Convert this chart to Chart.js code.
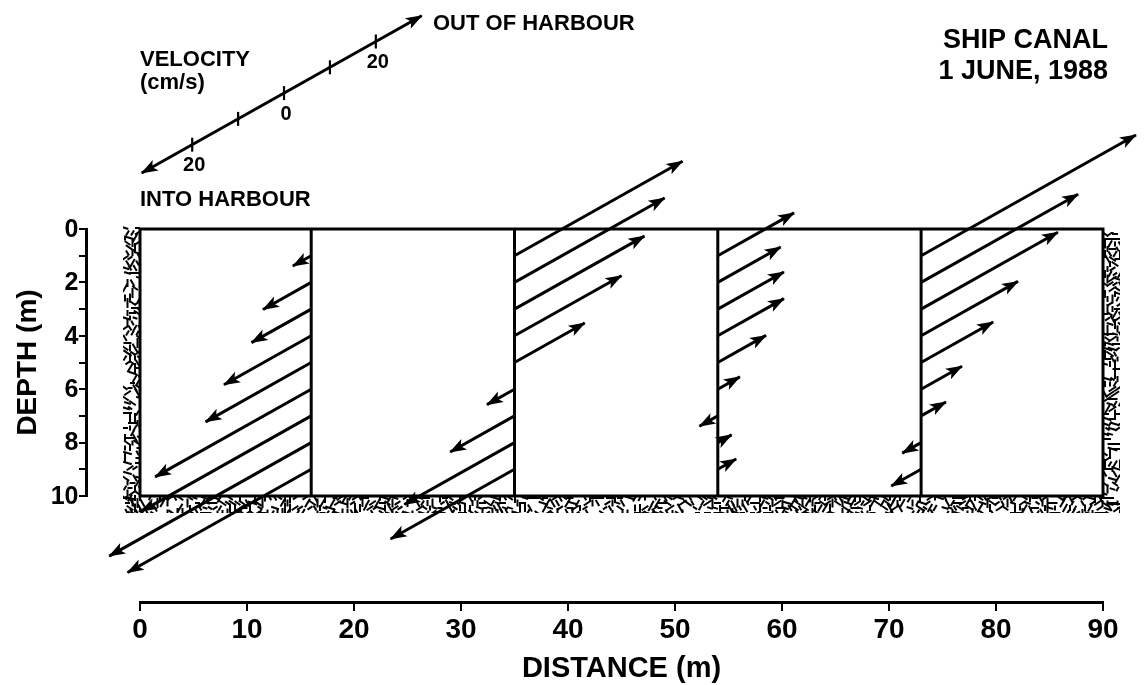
<!DOCTYPE html>
<html>
<head>
<meta charset="utf-8">
<script src="https://cdn.jsdelivr.net/npm/chart.js@4.4.1/dist/chart.umd.min.js"></script>
<style>
  html, body { margin: 0; padding: 0; background: #fff; }
  canvas { display: block; }
</style>
</head>
<body>
<canvas id="chartArea" width="1145" height="685"></canvas>
<script>
// stations across the canal (distance, m) and measuring depths (m)
var stations = [16, 35, 54, 73];
var depths = [1, 2, 3, 4, 5, 6, 7, 8, 9];
// velocity in cm/s, positive = out of harbour, negative = into harbour
var velStation16 = [-4, -10.5, -13, -19, -23, -34, -37, -44, -40];
var velStation35 = [36.6, 32.7, 28.3, 23.3, 15.3, -6, -14, -24, -27];
var velStation54 = [16.6, 13.7, 14.4, 14.4, 10.5, 4.8, -4, 3, 4];
var velStation73 = [46.8, 34.2, 29.8, 21.1, 15.7, 8.9, 5.4, -4.1, -6.5];
var velocities = [velStation16, velStation35, velStation54, velStation73];

var distanceTicks = [0, 10, 20, 30, 40, 50, 60, 70, 80, 90];
var depthTicks = [0, 2, 4, 6, 8, 10];

// velocity key
var keyTicks = [-20, -10, 0, 10, 20];
var keyLabels = ['20', '', '0', '', '20'];
var keyEnds = [-31, 30];

// drawing of the oblique velocity vectors: distance (m) and depth (m) per cm/s
var K_DIST = 0.429;
var K_DEPTH = 0.0966;
var KEY_ORIGIN = { x: 13.46, y: -5.09 };

var LW = 3;
var FONT = '"Liberation Sans", Arial, sans-serif';

function vec(x, y, v) {
    return { x: x + v * K_DIST, y: y - v * K_DEPTH };
}

var datasets = [];
// canal cross-section box
datasets.push({
    data: [{x: 0, y: 0}, {x: 90, y: 0}, {x: 90, y: 10}, {x: 0, y: 10}, {x: 0, y: 0}],
    borderWidth: LW
});
// station verticals and their vectors
stations.forEach(function(s, si) {
    datasets.push({ data: [{x: s, y: 0}, {x: s, y: 10}], borderWidth: LW });
    depths.forEach(function(d, di) {
        datasets.push({
            data: [{x: s, y: d}, vec(s, d, velocities[si][di])],
            borderWidth: LW,
            arrow: 'end'
        });
    });
});
// velocity key line
datasets.push({
    data: [vec(KEY_ORIGIN.x, KEY_ORIGIN.y, keyEnds[0]), vec(KEY_ORIGIN.x, KEY_ORIGIN.y, keyEnds[1])],
    borderWidth: LW,
    arrow: 'both'
});
datasets.forEach(function(ds) {
    ds.showLine = true;
    ds.borderColor = '#000';
    ds.pointRadius = 0;
    ds.clip = false;
    ds.tension = 0;
    ds.borderCapStyle = 'butt';
});

function hash(n) {
    n = (n ^ 61) ^ (n >>> 16);
    n = n + (n << 3);
    n = n ^ (n >>> 4);
    n = Math.imul(n, 0x27d4eb2d);
    n = n ^ (n >>> 15);
    return n >>> 0;
}

// bank / bed texture: short strokes in a fixed pattern
var ANGLES = [0, 0.6, 1.05, 1.57, 2.1, 2.55, 0.3, 1.57];
function hatchBand(ctx, x0, y0, x1, y1, seed) {
    ctx.save();
    ctx.beginPath();
    ctx.rect(x0, y0, x1 - x0, y1 - y0);
    ctx.clip();
    ctx.strokeStyle = '#000';
    ctx.lineWidth = 2;
    var step = 5, i = 0;
    for (var y = y0 + 2; y < y1 + 2; y += step) {
        var j = 0;
        for (var x = x0 + 2 + (i % 2) * 2.5; x < x1 + 2; x += step) {
            var h = hash(seed * 7919 + i * 1031 + j * 17);
            j++;
            if ((h >>> 7) % 4 === 0) continue;
            var a = ANGLES[h % 8];
            var len = 5 + (h >>> 3) % 6;
            var dx = Math.cos(a) * len / 2, dy = Math.sin(a) * len / 2;
            ctx.beginPath();
            ctx.moveTo(x - dx, y - dy);
            ctx.lineTo(x + dx, y + dy);
            ctx.stroke();
        }
        i++;
    }
    ctx.restore();
}

function arrowHead(ctx, from, to) {
    var a = Math.atan2(to.y - from.y, to.x - from.x);
    var len = 16, half = 6;
    ctx.save();
    ctx.translate(to.x, to.y);
    ctx.rotate(a);
    ctx.beginPath();
    ctx.moveTo(1, 0);
    ctx.lineTo(-len, -half);
    ctx.lineTo(-len + 4, 0);
    ctx.lineTo(-len, half);
    ctx.closePath();
    ctx.fillStyle = '#000';
    ctx.fill();
    ctx.restore();
}

var canalPlugin = {
    id: 'canal',
    beforeDatasetsDraw: function(chart) {
        var ctx = chart.ctx, xs = chart.scales.x, ys = chart.scales.y;
        var xl = xs.getPixelForValue(0), xr = xs.getPixelForValue(90);
        var yt = ys.getPixelForValue(0), yb = ys.getPixelForValue(10);
        var w = 17;
        hatchBand(ctx, xl - w, yt - 3, xl, yb + w, 1);
        hatchBand(ctx, xl - w, yb, xr + w, yb + w, 2);
        hatchBand(ctx, xr, yt + 3, xr + w, yb + w, 3);
    },
    afterDatasetsDraw: function(chart) {
        var ctx = chart.ctx, xs = chart.scales.x, ys = chart.scales.y;
        chart.data.datasets.forEach(function(ds, i) {
            if (!ds.arrow) return;
            var pts = chart.getDatasetMeta(i).data;
            arrowHead(ctx, pts[0], pts[1]);
            if (ds.arrow === 'both') arrowHead(ctx, pts[1], pts[0]);
        });
        ctx.save();
        ctx.strokeStyle = '#000';
        ctx.lineWidth = 2.2;
        ctx.fillStyle = '#000';
        ctx.font = 'bold 20px ' + FONT;
        ctx.textAlign = 'center';
        ctx.textBaseline = 'middle';
        // key ticks and labels
        keyTicks.forEach(function(v, k) {
            var p = vec(KEY_ORIGIN.x, KEY_ORIGIN.y, v);
            var px = xs.getPixelForValue(p.x), py = ys.getPixelForValue(p.y);
            ctx.beginPath();
            ctx.moveTo(px, py - 7);
            ctx.lineTo(px, py + 7);
            ctx.stroke();
            if (keyLabels[k]) ctx.fillText(keyLabels[k], px + 2, py + 21);
        });
        // depth tick labels, placed left of the depth axis ticks
        var axisX = xs.getPixelForValue(ys.options.position.x);
        ctx.font = 'bold 25px ' + FONT;
        ctx.textAlign = 'right';
        ys.ticks.forEach(function(t) {
            if (depthTicks.indexOf(t.value) < 0) return;
            ctx.fillText(String(t.value), axisX - 8, ys.getPixelForValue(t.value) + 1);
        });
        ctx.restore();
    },
    afterDraw: function(chart) {
        var ctx = chart.ctx, ys = chart.scales.y;
        ctx.save();
        ctx.fillStyle = '#000';
        ctx.textBaseline = 'middle';
        ctx.font = 'bold 22px ' + FONT;
        ctx.textAlign = 'left';
        ctx.fillText('VELOCITY', 140, 60);
        ctx.fillText('(cm/s)', 140, 83);
        ctx.fillText('OUT OF HARBOUR', 433, 24);
        ctx.fillText('INTO HARBOUR', 140, 200);
        ctx.font = 'bold 27px ' + FONT;
        ctx.textAlign = 'right';
        ctx.fillText('SHIP CANAL', 1108, 41);
        ctx.fillText('1 JUNE, 1988', 1108, 72);
        // depth axis title
        var cy = (ys.getPixelForValue(0) + ys.getPixelForValue(10)) / 2;
        ctx.translate(28, cy);
        ctx.rotate(-Math.PI / 2);
        ctx.textAlign = 'center';
        ctx.font = 'bold 28px ' + FONT;
        ctx.fillText('DEPTH (m)', 0, 0);
        ctx.restore();
    }
};

var config = {
    type: 'scatter',
    data: { datasets: datasets },
    options: {
        responsive: false,
        animation: false,
        events: [],
        layout: { padding: { left: 140, right: 42, top: 229, bottom: 189 } },
        plugins: {
            legend: { display: false },
            tooltip: { enabled: false }
        },
        scales: {
            x: {
                type: 'linear',
                min: 0,
                max: 90,
                position: { y: 14 },
                afterBuildTicks: function(scale) {
                    scale.ticks = distanceTicks.map(function(v) { return { value: v }; });
                },
                ticks: { color: '#000', padding: 4, font: { family: FONT, size: 28, weight: 'bold' } },
                grid: { drawOnChartArea: false, color: '#000', tickLength: 7, lineWidth: 2 },
                border: { color: '#000', width: LW },
                title: {
                    display: true,
                    text: 'DISTANCE (m)',
                    color: '#000',
                    padding: { top: 0, bottom: 0 },
                    font: { family: FONT, size: 29, weight: 'bold' }
                }
            },
            y: {
                type: 'linear',
                min: 0,
                max: 10,
                reverse: true,
                position: { x: -5 },
                ticks: { stepSize: 1, display: false },
                grid: { drawOnChartArea: false, color: '#000', tickLength: 6, lineWidth: 2 },
                border: { color: '#000', width: LW }
            }
        }
    },
    plugins: [canalPlugin]
};

var ctx = document.getElementById('chartArea').getContext('2d');
window.canalChart = new Chart(ctx, config);
</script>
</body>
</html>
